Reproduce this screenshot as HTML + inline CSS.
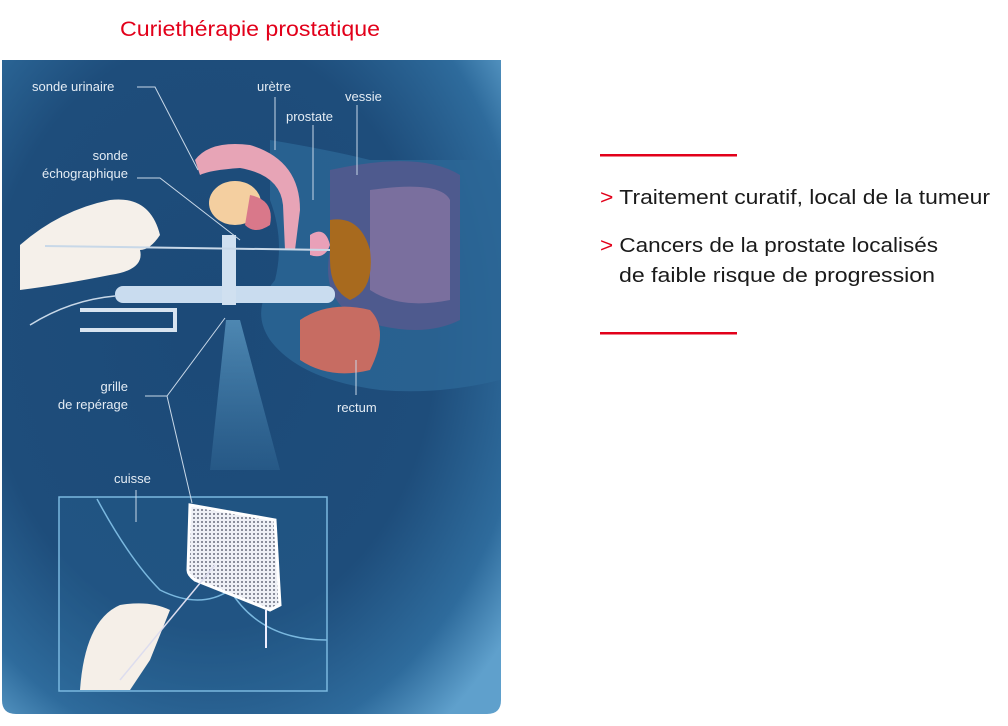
<!DOCTYPE html>
<html><head><meta charset="utf-8"><style>
html,body{margin:0;padding:0;background:#fff;width:1008px;height:726px;overflow:hidden}
svg{display:block}
.lb{font-family:"Liberation Sans",sans-serif;font-size:13px;fill:#e4ecf4}
</style></head><body>
<svg width="1008" height="726" viewBox="0 0 1008 726" xmlns="http://www.w3.org/2000/svg">
<defs>
<radialGradient id="bg" cx="0.42" cy="0.42" r="0.75">
<stop offset="0" stop-color="#1c4a78"/><stop offset="0.6" stop-color="#1e4d7b"/><stop offset="0.85" stop-color="#2e6b9c"/><stop offset="1" stop-color="#5fa0cc"/>
</radialGradient>
<linearGradient id="cone" x1="0" y1="0" x2="0" y2="1"><stop offset="0" stop-color="#6fb0d8" stop-opacity="0.6"/><stop offset="1" stop-color="#5aa0cc" stop-opacity="0.15"/></linearGradient>
<pattern id="dots" width="4" height="4" patternUnits="userSpaceOnUse"><rect width="4" height="4" fill="#eef0f6"/><circle cx="2" cy="2" r="1" fill="#6a6e80"/></pattern>
</defs>
<text x="120" y="36" textLength="260" lengthAdjust="spacingAndGlyphs" font-family="Liberation Sans,sans-serif" font-size="21" fill="#e2001a">Curiethérapie prostatique</text>
<path d="M2 60 H501 V700 Q501 714 487 714 H16 Q2 714 2 700 Z" fill="url(#bg)"/>
<!-- body shapes -->
<path d="M270 140 Q330 150 370 160 L500 160 V380 Q440 395 380 390 Q300 380 270 340 Q250 310 275 280 Q285 240 270 200 Z" fill="#2c6796" opacity="0.8"/>
<path d="M330 170 Q420 150 460 175 L460 320 Q420 340 360 320 Q320 300 330 250 Z" fill="#4e5a8e"/>
<path d="M370 190 Q440 180 450 200 L450 300 Q400 310 370 290 Z" fill="#7a6f9e"/>
<path d="M330 220 Q360 215 370 250 Q375 290 350 300 Q330 290 330 260 Z" fill="#a86a1e"/>
<path d="M300 320 Q330 300 370 310 Q390 330 370 370 Q330 380 300 360 Z" fill="#c76c62"/>
<path d="M195 160 Q210 140 250 145 Q300 160 300 210 L295 250 L285 250 L283 205 Q280 175 240 168 Q210 170 200 175 Z" fill="#e7a4b6"/>
<ellipse cx="235" cy="203" rx="26" ry="22" fill="#f4cfa0"/>
<path d="M250 195 Q275 200 270 225 Q255 235 245 225 Z" fill="#d9788a"/>
<path d="M310 235 Q325 225 330 245 Q325 260 310 255 Z" fill="#e9a0b8"/>
<!-- cone -->
<path d="M226 320 L210 470 L280 470 L240 320 Z" fill="url(#cone)"/>
<!-- hand top -->
<path d="M20 245 Q60 210 110 200 Q150 195 160 235 Q150 250 140 250 Q145 270 110 275 Q60 285 20 290 Z" fill="#f5f0ea"/>
<!-- probe -->
<rect x="115" y="286" width="220" height="17" rx="8" fill="#c9dcef"/>
<rect x="222" y="235" width="14" height="70" fill="#d0e0f0"/>
<line x1="45" y1="246" x2="330" y2="250" stroke="#c8d8e8" stroke-width="2"/>
<path d="M80 310 H175 V330 H80" fill="none" stroke="#d8e4f0" stroke-width="4"/>
<path d="M30 325 Q70 300 115 296" fill="none" stroke="#c8d8e8" stroke-width="1.5"/>
<!-- bottom box -->
<rect x="59" y="497" width="268" height="194" fill="#2a6a9a" fill-opacity="0.25" stroke="#7ab8df" stroke-width="1.5"/>
<path d="M97 499 Q130 560 160 590 Q200 610 230 590 Q260 640 327 640" fill="none" stroke="#7ab8df" stroke-width="1.5"/>
<path d="M190 505 L275 520 L280 605 L270 610 L195 580 Q188 575 188 570 Z" fill="url(#dots)" stroke="#fff" stroke-width="3"/>
<path d="M80 690 Q85 620 120 605 Q150 600 170 610 L150 660 L130 690 Z" fill="#f5efe8"/>
<line x1="120" y1="680" x2="215" y2="565" stroke="#dde" stroke-width="1.5"/>
<line x1="266" y1="610" x2="266" y2="648" stroke="#eef" stroke-width="2"/>
<!-- leader lines -->
<g stroke="#c8d8e8" stroke-width="1" fill="none">
<path d="M137 87 H155 L198 170"/><path d="M137 178 H160 L240 240"/>
<line x1="275" y1="97" x2="275" y2="150"/><line x1="313" y1="125" x2="313" y2="200"/><line x1="357" y1="105" x2="357" y2="175"/>
<line x1="356" y1="360" x2="356" y2="395"/>
<path d="M145 396 H167 L225 318 M167 396 L192 503"/>
<line x1="136" y1="490" x2="136" y2="522"/>
</g>
<text class="lb" x="32" y="91">sonde urinaire</text>
<text class="lb" x="128" y="160" text-anchor="end">sonde</text>
<text class="lb" x="128" y="178" text-anchor="end">échographique</text>
<text class="lb" x="257" y="91">urètre</text>
<text class="lb" x="286" y="121">prostate</text>
<text class="lb" x="345" y="101">vessie</text>
<text class="lb" x="128" y="391" text-anchor="end">grille</text>
<text class="lb" x="128" y="409" text-anchor="end">de repérage</text>
<text class="lb" x="337" y="412">rectum</text>
<text class="lb" x="114" y="483">cuisse</text>
<!-- right text -->
<rect x="600" y="154" width="137" height="2.5" fill="#e2001a"/>
<rect x="600" y="332" width="137" height="2.5" fill="#e2001a"/>
<g font-family="Liberation Sans,sans-serif" font-size="20" fill="#1a1a1a" lengthAdjust="spacingAndGlyphs">
<text x="600" y="204" textLength="390" lengthAdjust="spacingAndGlyphs"><tspan fill="#e2001a">&gt; </tspan>Traitement curatif, local de la tumeur</text>
<text x="600" y="252" textLength="338" lengthAdjust="spacingAndGlyphs"><tspan fill="#e2001a">&gt; </tspan>Cancers de la prostate localisés</text>
<text x="619" y="282" textLength="316" lengthAdjust="spacingAndGlyphs">de faible risque de progression</text>
</g>
</svg>
</body></html>
